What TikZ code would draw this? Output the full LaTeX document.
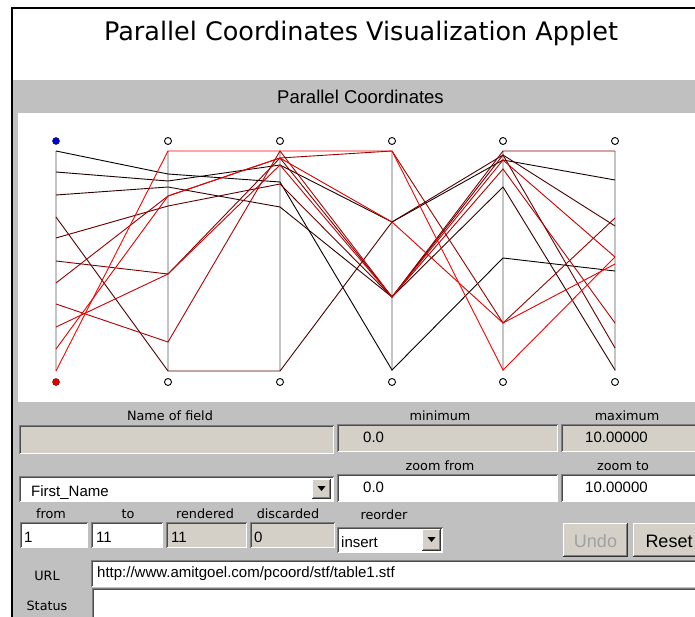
\documentclass[tikz,border=0pt]{standalone}
\usepackage{fontspec}
\setmainfont{Liberation Sans}
\newfontfamily\djv{DejaVu Sans}
\definecolor{panel}{HTML}{C0C0C0}
\definecolor{fieldgray}{HTML}{D4D0C8}
\definecolor{edgedark}{HTML}{808080}
\definecolor{axisgray}{HTML}{C4C4C4}
\definecolor{disabledtxt}{HTML}{A0A0A0}
\newcommand{\sunkbox}[5]{%
  \fill[#5] (#1,#2) rectangle (#3,#4);
  \draw[line width=1pt, draw=edgedark] (#1+0.5,#4) -- (#1+0.5,#2+0.5) -- (#3,#2+0.5);
  \draw[line width=1pt, draw=black!70] (#1+1.5,#4-1) -- (#1+1.5,#2+1.5) -- (#3-1,#2+1.5);
  \draw[line width=1pt, draw=white] (#1+1,#4-0.5) -- (#3-0.5,#4-0.5) -- (#3-0.5,#2+1);
}
\newcommand{\raisedbox}[4]{%
  \fill[fieldgray] (#1,#2) rectangle (#3,#4);
  \draw[line width=1pt, draw=white] (#1+0.5,#4-1) -- (#1+0.5,#2+0.5) -- (#3-1,#2+0.5);
  \draw[line width=1pt, draw=black!80] (#1,#4-0.5) -- (#3-0.5,#4-0.5) -- (#3-0.5,#2);
  \draw[line width=1pt, draw=edgedark] (#1+1,#4-1.5) -- (#3-1.5,#4-1.5) -- (#3-1.5,#2+1);
}
\begin{document}
\begin{tikzpicture}[x=1pt,y=-1pt,
  lbl/.style={font=\djv\fontsize{12.8}{15}\selectfont, anchor=base, inner sep=0pt},
  fld/.style={font=\fontsize{15}{18}\selectfont, anchor=base west, inner sep=0pt},
  btntxt/.style={font=\fontsize{18}{21}\selectfont, anchor=base, inner sep=0pt},
  pline/.style={line width=0.9pt},
  axisline/.style={draw=axisgray, line width=1.2pt},
  hollowdot/.style={circle, draw=black, line width=0.9pt, fill=white, inner sep=0pt, minimum size=7pt}]
\useasboundingbox (0,0) rectangle (695,617);
\fill[white] (0,0) rectangle (695,617);
% panel backgrounds
\fill[panel] (13,80) rectangle (695,617);
\fill[white] (18,113) rectangle (695,402);
\draw[line width=2pt] (12,617) -- (12,8) -- (695,8);
% titles
\node[font=\djv\fontsize{25.5}{30}\selectfont, anchor=base, inner sep=0pt] (title) at (361,41) {Parallel Coordinates Visualization Applet};
\node[font=\fontsize{18.5}{22}\selectfont, anchor=base, inner sep=0pt] (header) at (360.5,104) {Parallel Coordinates};
% axes
\foreach \x [count=\k] in {56,168,280,392,503,615} {
  \draw[axisline] (\x,151) -- (\x,371);
}
% polylines
\foreach \i/\a/\b/\c/\d/\e/\f in {
1/151/174/182/370/258/271,
2/172/181/165/222/160/180,
3/195/187/207/297/187/370,
4/217/371/371/222/155/226,
5/238/206/184/297/155/348,
6/261/274/158/297/151/151,
7/283/196/158/151/323/218,
8/304/342/151/297/169/323,
9/327/274/165/297/160/257,
10/349/196/158/222/323/264,
11/371/151/151/151/370/257} {
  \pgfmathtruncatemacro\pct{10*(\i-1)}
  \draw[pline, draw=red!\pct!black] (56,\a) -- (168,\b) -- (280,\c) -- (392,\d) -- (503,\e) -- (615,\f);
}
% axis end markers
\node[circle, draw=black!70!blue, fill=blue!85!black, inner sep=0pt, minimum size=7pt] (top1) at (56,141) {};
\node[circle, draw=black!60!red, fill=red!90!black, inner sep=0pt, minimum size=7pt] (bot1) at (56,382) {};
\foreach \x [count=\k] in {168,280,392,503,615} {
  \node[hollowdot] (top\k) at (\x,141) {};
  \node[hollowdot] (bot\k) at (\x,382) {};
}
% ---- control panel ----
\node[lbl] (lname) at (170,420) {Name of field};
\node[lbl] (lmin) at (440,420) {minimum};
\node[lbl] (lmax) at (627,420) {maximum};
\sunkbox{19}{425}{334}{454}{fieldgray}
\sunkbox{337}{424}{558}{452}{fieldgray}
\sunkbox{561}{424}{705}{452}{fieldgray}
\node[fld] (vmin) at (363,442) {0.0};
\node[fld] (vmax) at (585,442) {10.00000};
\node[lbl] (lzf) at (440,470) {zoom from};
\node[lbl] (lzt) at (623,470) {zoom to};
\sunkbox{19}{476}{334}{502}{white}
\raisedbox{312}{479}{331}{499}
\fill (317.5,486) -- (325.5,486) -- (321.5,491) -- cycle;
\node[fld] (vname) at (31,496) {First\_Name};
\sunkbox{337}{474}{558}{502}{white}
\sunkbox{561}{474}{705}{502}{white}
\node[fld] (vzf) at (363,492) {0.0};
\node[fld] (vzt) at (585,492) {10.00000};
\node[lbl] (lfrom) at (51,518) {from};
\node[lbl] (lto) at (128,518) {to};
\node[lbl] (lrend) at (205,518) {rendered};
\node[lbl] (ldisc) at (288,518) {discarded};
\node[lbl] (lreord) at (384,519) {reorder};
\sunkbox{20}{522}{88}{548}{white}
\sunkbox{91}{522}{163}{548}{white}
\sunkbox{166}{522}{247}{548}{fieldgray}
\sunkbox{250}{522}{335}{548}{fieldgray}
\node[fld] (vfrom) at (24,542) {1};
\node[fld] (vto) at (96,542) {11};
\node[fld] (vrend) at (171,542) {11};
\node[fld] (vdisc) at (254,542) {0};
\sunkbox{337}{527}{443}{553}{white}
\raisedbox{422}{529}{441}{551}
\fill (427.5,537) -- (435.5,537) -- (431.5,542) -- cycle;
\node[fld] (vreord) at (341,547) {insert};
\raisedbox{563}{523}{628}{557}
\node[btntxt, text=disabledtxt] (undo) at (595.5,547) {Undo};
\raisedbox{633}{523}{710}{557}
\node[btntxt] (reset) at (669,547) {Reset};
\node[lbl] (lurl) at (47,580) {URL};
\sunkbox{91}{560}{705}{587}{white}
\node[fld] (vurl) at (97,577) {http://www.amitgoel.com/pcoord/stf/table1.stf};
\node[lbl] (lstat) at (47,610) {Status};
\sunkbox{92}{588}{705}{630}{white}
\end{tikzpicture}
\end{document}
